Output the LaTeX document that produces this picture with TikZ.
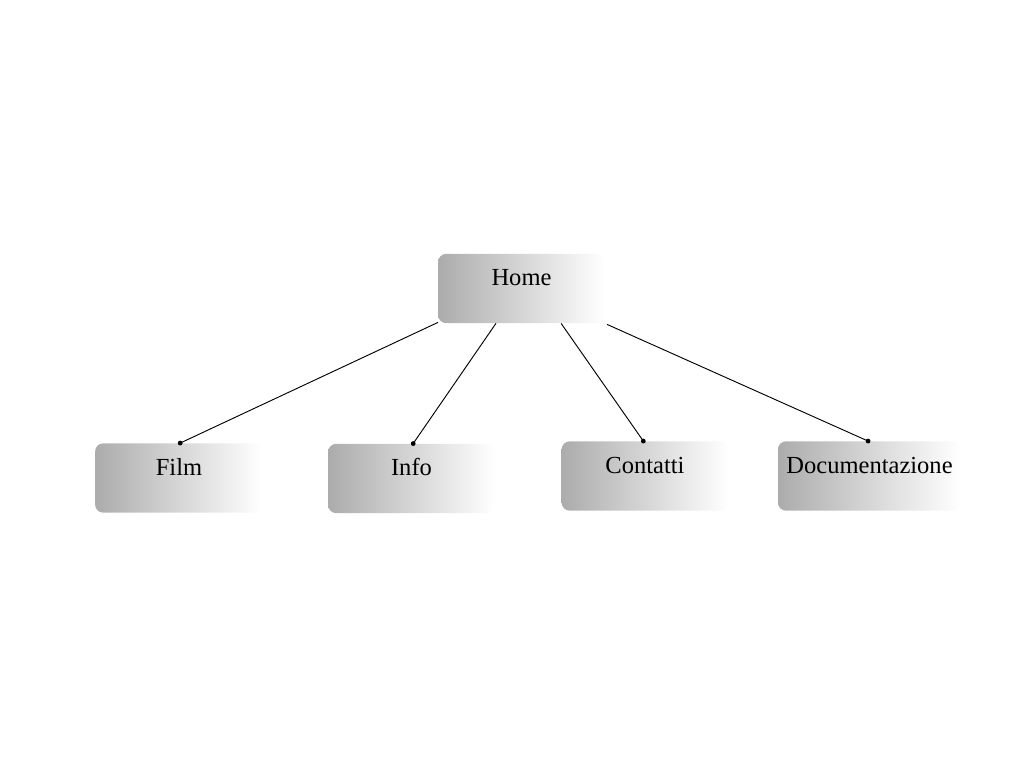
\documentclass[tikz,border=0pt]{standalone}
\usepackage{fontspec}
\setmainfont{Liberation Serif}
\usetikzlibrary{calc}
\definecolor{boxgray}{RGB}{172,172,172}
\tikzset{
  pagebox/.style={rectangle, rounded corners=6pt, left color=boxgray, right color=white, draw=none,
    minimum width=125pt, minimum height=52pt, inner sep=0pt},
  lbl/.style={font=\fontsize{18.4pt}{21pt}\selectfont, inner sep=0pt, anchor=base},
  link/.style={draw=black, line width=0.7pt},
  enddot/.style={fill=black, circle, inner sep=0pt, minimum size=3.6pt}
}
\begin{document}
\begin{tikzpicture}[x=0.75pt,y=-0.75pt]
\useasboundingbox (0,0) rectangle (1024,768);
\node[pagebox] (home) at (521.5,288.5) {};
\node[pagebox] (film) at (178.5,478) {};
\node[pagebox] (info) at (411.5,478.5) {};
\node[pagebox] (cont) at (645,476) {};
\node[pagebox, minimum width=136.5pt] (doc) at (869,476) {};
\node[lbl] (thome) at (521.5,285) {Home};
\node[lbl] (tfilm) at (179,475) {Film};
\node[lbl] (tinfo) at (411.5,475) {Info};
\node[lbl] (tcont) at (645,473) {Contatti};
\node[lbl] (tdoc) at (869.5,473) {Documentazione};
\coordinate (h1) at ($(home.south west)+(0,-1)$);
\coordinate (h2) at ($(home.south west)!0.347!(home.south east)$);
\coordinate (h3) at ($(home.south west)!0.737!(home.south east)$);
\coordinate (h4) at ($(home.south east)+(2,1)$);
\coordinate (c1) at ($(film.north west)!0.51!(film.north east)$);
\coordinate (c2) at ($(info.north west)!0.51!(info.north east)$);
\coordinate (c3) at ($(cont.north west)!0.49!(cont.north east)$);
\coordinate (c4) at ($(doc.north west)!0.495!(doc.north east)$);
\draw[link] (h1) -- (c1);
\draw[link] (h2) -- (c2);
\draw[link] (h3) -- (c3);
\draw[link] (h4) -- (c4);
\node[enddot] (d1) at (c1) {};
\node[enddot] (d2) at (c2) {};
\node[enddot] (d3) at (c3) {};
\node[enddot] (d4) at (c4) {};
\end{tikzpicture}
\end{document}
